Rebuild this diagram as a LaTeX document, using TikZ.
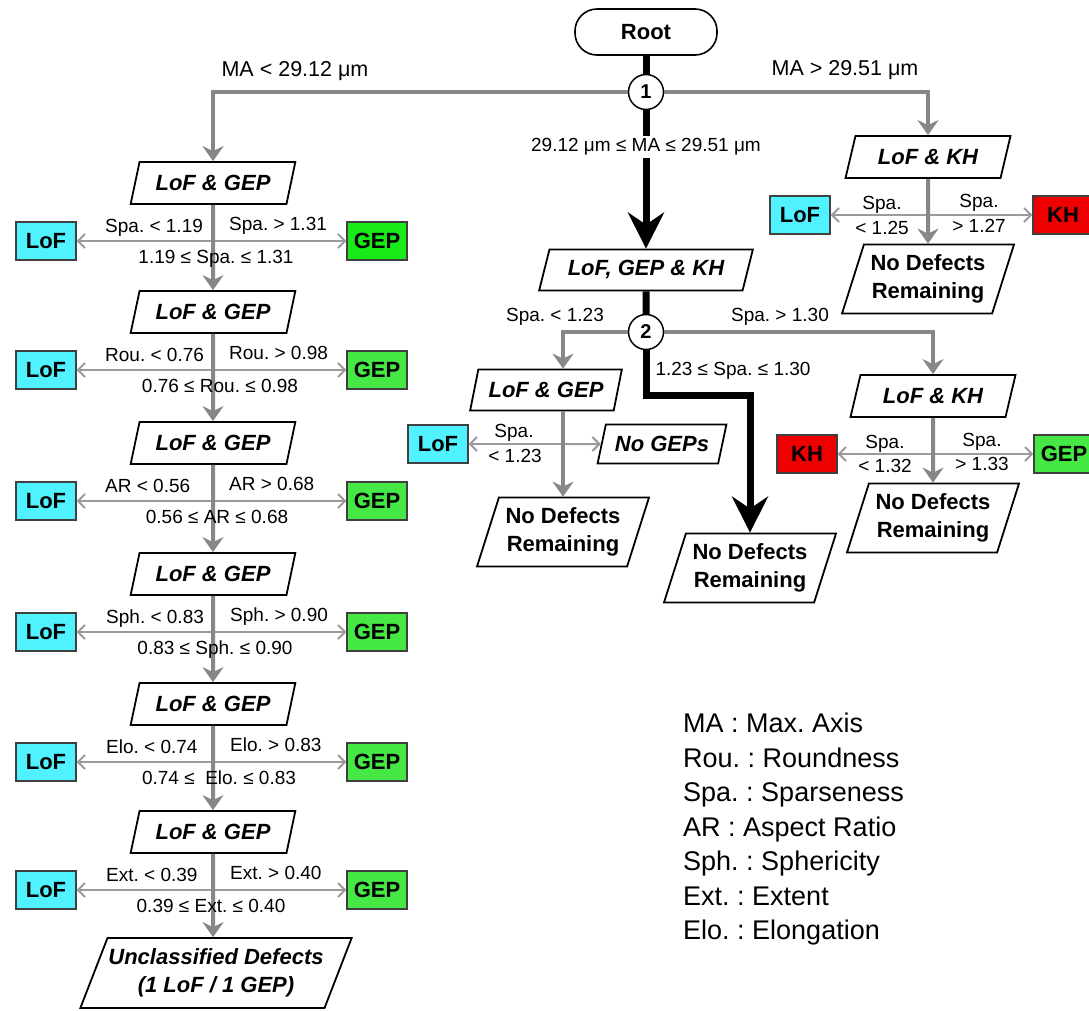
\documentclass[tikz,border=0pt]{standalone}
\usepackage{fontspec}
\setmainfont{Liberation Sans}
\usetikzlibrary{shapes.geometric,arrows.meta}
\definecolor{lofc}{RGB}{80,242,255}
\definecolor{gepa}{RGB}{25,235,25}
\definecolor{gepb}{RGB}{70,232,70}
\definecolor{khc}{RGB}{238,0,0}
\definecolor{lgray}{RGB}{155,155,155}
\definecolor{mgray}{RGB}{135,135,135}
\frenchspacing
\begin{document}
\begin{tikzpicture}[x=1pt,y=-1pt,
  para/.style={trapezium, trapezium left angle=66, trapezium right angle=114,
    trapezium stretches=true, draw=black, line width=1.8pt, fill=white,
    inner sep=0pt, align=center, minimum width=165pt, minimum height=42pt,
    font=\fontsize{22}{28}\selectfont\bfseries},
  it/.style={font=\fontsize{22}{28}\selectfont\bfseries\itshape},
  tall/.style={trapezium left angle=68, trapezium right angle=112,
    minimum width=172pt, minimum height=69pt},
  rootbox/.style={draw=black, line width=1.6pt, rounded corners=22pt, fill=white,
    minimum width=142pt, minimum height=46pt, inner sep=0pt,
    font=\fontsize{22}{26}\selectfont\bfseries},
  circ/.style={circle, draw=black, line width=1.5pt, fill=white, minimum size=35pt,
    inner sep=0pt, font=\fontsize{20}{24}\selectfont\bfseries},
  box/.style={draw=black!75, line width=1.2pt, minimum width=60pt, minimum height=38pt,
    inner sep=0pt, font=\fontsize{22}{26}\selectfont\bfseries},
  lofbox/.style={box, fill=lofc},
  gepbox/.style={box, fill=gepb},
  khbox/.style={box, fill=khc},
  lbl/.style={font=\fontsize{19}{22}\selectfont, inner sep=0pt},
  biglbl/.style={font=\fontsize{21.5}{24}\selectfont, inner sep=0pt},
  gdown/.style={draw=mgray, line width=4pt, -{Stealth[length=15pt,width=21pt,inset=5pt]}},
  side/.style={draw=lgray, line width=2pt, -{Straight Barb[length=7pt,width=14pt]}},
  bpath/.style={draw=black, line width=7pt},
  barrow/.style={bpath, -{Stealth[length=36pt,width=36pt,inset=12pt]}}
]
\path[fill=white,use as bounding box] (0,0) rectangle (1089,1010);

% ---------- top ----------
\node[rootbox] (root) at (646,32) {Root};
\node[circ] (c1) at (646,92) {1};
\node[para,it,minimum width=214pt,minimum height=41pt] (lgk) at (646,270) {LoF, GEP \& KH};
\node[circ] (c2) at (646,332) {2};

% ---------- left column ----------
\node[para,it] (lg1) at (213,183) {LoF \& GEP};
\node[para,it] (lg2) at (213,312) {LoF \& GEP};
\node[para,it] (lg3) at (213,443) {LoF \& GEP};
\node[para,it] (lg4) at (213,574) {LoF \& GEP};
\node[para,it] (lg5) at (213,704) {LoF \& GEP};
\node[para,it] (lg6) at (213,832) {LoF \& GEP};
\node[para,it,trapezium left angle=61,trapezium right angle=119,minimum width=272pt,minimum height=70pt] (unc) at (216,973) {Unclassified Defects\\(1 LoF / 1 GEP)};

\coordinate (b1) at (213,241);
\coordinate (b2) at (213,370);
\coordinate (b3) at (213,501);
\coordinate (b4) at (213,632);
\coordinate (b5) at (213,762);
\coordinate (b6) at (213,890);

\node[lofbox] (lof1) at (46,241) {LoF};
\node[lofbox] (lof2) at (46,370) {LoF};
\node[lofbox] (lof3) at (46,501) {LoF};
\node[lofbox] (lof4) at (46,632) {LoF};
\node[lofbox] (lof5) at (46,762) {LoF};
\node[lofbox] (lof6) at (46,890) {LoF};
\node[gepbox,fill=gepa] (gep1) at (377,241) {GEP};
\node[gepbox] (gep2) at (377,370) {GEP};
\node[gepbox] (gep3) at (377,501) {GEP};
\node[gepbox] (gep4) at (377,632) {GEP};
\node[gepbox] (gep5) at (377,762) {GEP};
\node[gepbox] (gep6) at (377,890) {GEP};

\foreach \i in {1,...,6} {
  \draw[side] (b\i) -- (lof\i);
  \draw[side] (b\i) -- (gep\i);
}
\draw[gdown] (c1) -| (lg1);
\draw[gdown] (lg1) -- (lg2);
\draw[gdown] (lg2) -- (lg3);
\draw[gdown] (lg3) -- (lg4);
\draw[gdown] (lg4) -- (lg5);
\draw[gdown] (lg5) -- (lg6);
\draw[gdown] (lg6) -- (lg6 |- unc.north);

\node[lbl,anchor=base west] (l1a) at (105,232) {Spa. < 1.19};
\node[lbl,anchor=base west] (l1b) at (229,230) {Spa. > 1.31};
\node[lbl,anchor=base] (l1c) at (216,263) {1.19 ≤ Spa. ≤ 1.31};
\node[lbl,anchor=base west] (l2a) at (105,361) {Rou. < 0.76};
\node[lbl,anchor=base west] (l2b) at (229,359) {Rou. > 0.98};
\node[lbl,anchor=base] (l2c) at (220,392) {0.76 ≤ Rou. ≤ 0.98};
\node[lbl,anchor=base west] (l3a) at (105,492) {AR < 0.56};
\node[lbl,anchor=base west] (l3b) at (229,490) {AR > 0.68};
\node[lbl,anchor=base] (l3c) at (217,523) {0.56 ≤ AR ≤ 0.68};
\node[lbl,anchor=base west] (l4a) at (106,623) {Sph. < 0.83};
\node[lbl,anchor=base west] (l4b) at (230,621) {Sph. > 0.90};
\node[lbl,anchor=base] (l4c) at (215,654) {0.83 ≤ Sph. ≤ 0.90};
\node[lbl,anchor=base west] (l5a) at (106,753) {Elo. < 0.74};
\node[lbl,anchor=base west] (l5b) at (230,751) {Elo. > 0.83};
\node[lbl,anchor=base] (l5c) at (219,784) {0.74 ≤\ \ Elo. ≤ 0.83};
\node[lbl,anchor=base west] (l6a) at (106,881) {Ext. < 0.39};
\node[lbl,anchor=base west] (l6b) at (230,879) {Ext. > 0.40};
\node[lbl,anchor=base] (l6c) at (211,912) {0.39 ≤ Ext. ≤ 0.40};

% ---------- top right ----------
\node[para,it] (lk1) at (928,157) {LoF \& KH};
\node[para,tall] (ndt) at (928,279) {No Defects\\Remaining};
\node[lofbox] (loft) at (800,215) {LoF};
\node[khbox] (kht) at (1063,215) {KH};
\coordinate (bt) at (928,215);
\draw[side] (bt) -- (loft);
\draw[side] (bt) -- (kht);
\draw[gdown] (c1) -| (lk1);
\draw[gdown] (lk1) -- (ndt);
\node[lbl] (t1) at (882,205) {Spa.};
\node[lbl] (t2) at (882,228) {< 1.25};
\node[lbl] (t3) at (979,203) {Spa.};
\node[lbl] (t4) at (979,226) {> 1.27};

% ---------- middle ----------
\node[para,it,minimum width=152pt,minimum height=41pt] (lgm) at (546,390) {LoF \& GEP};
\node[para,tall] (nd1) at (563,532) {No Defects\\Remaining};
\node[para,it,minimum width=129pt,minimum height=39pt] (nogep) at (662,444) {No GEPs};
\node[lofbox] (lofm) at (438,444) {LoF};
\coordinate (bm) at (563,444);
\draw[side] (bm) -- (lofm);
\draw[side] (bm) -- (nogep);
\draw[gdown] (c2) -| ([xshift=17pt]lgm.north);
\draw[gdown] (lgm.south -| nd1.north) -- (nd1.north);
\node[lbl] (m1) at (514,433) {Spa.};
\node[lbl] (m2) at (515,456) {< 1.23};

\node[para,tall] (nd2) at (750,568) {No Defects\\Remaining};
\coordinate (tk) at (750,395);

% ---------- lower right ----------
\node[para,it] (lk2) at (933,396) {LoF \& KH};
\node[para,tall] (nd3) at (933,518) {No Defects\\Remaining};
\node[khbox] (khm) at (807,454) {KH};
\node[gepbox] (gepm) at (1064,454) {GEP};
\coordinate (br) at (933,454);
\draw[side] (br) -- (khm);
\draw[side] (br) -- (gepm);
\draw[gdown] (c2) -| (lk2);
\draw[gdown] (lk2) -- (nd3);
\node[lbl] (r1) at (885,444) {Spa.};
\node[lbl] (r2) at (885,466) {< 1.32};
\node[lbl] (r3) at (982,442) {Spa.};
\node[lbl] (r4) at (982,464) {> 1.33};

% ---------- thick black path ----------
\draw[bpath] (root) -- (c1);
\draw[barrow] (c1) -- (lgk);
\draw[bpath] (lgk) -- (c2);
\draw[barrow] (c2) |- (tk) -- (nd2);

% ---------- branch labels ----------
\node[biglbl] (mal) at (295,71) {MA < 29.12 μm};
\node[biglbl] (mar) at (845,70) {MA > 29.51 μm};
\node[lbl,fill=white,inner sep=3pt] (mam) at (646,147) {29.12 μm ≤ MA ≤ 29.51 μm};
\node[lbl] (s2l) at (555,317) {Spa. < 1.23};
\node[lbl] (s2r) at (780,317) {Spa. > 1.30};
\node[lbl] (s2m) at (733,371) {1.23 ≤ Spa. ≤ 1.30};

% ---------- legend ----------
\node[anchor=north west,inner sep=0pt,align=left,font=\fontsize{27}{34.5}\selectfont] (legend) at (683,713)
 {MA : Max. Axis\\Rou. : Roundness\\Spa. : Sparseness\\AR : Aspect Ratio\\Sph. : Sphericity\\Ext. : Extent\\Elo. : Elongation};
\end{tikzpicture}
\end{document}
